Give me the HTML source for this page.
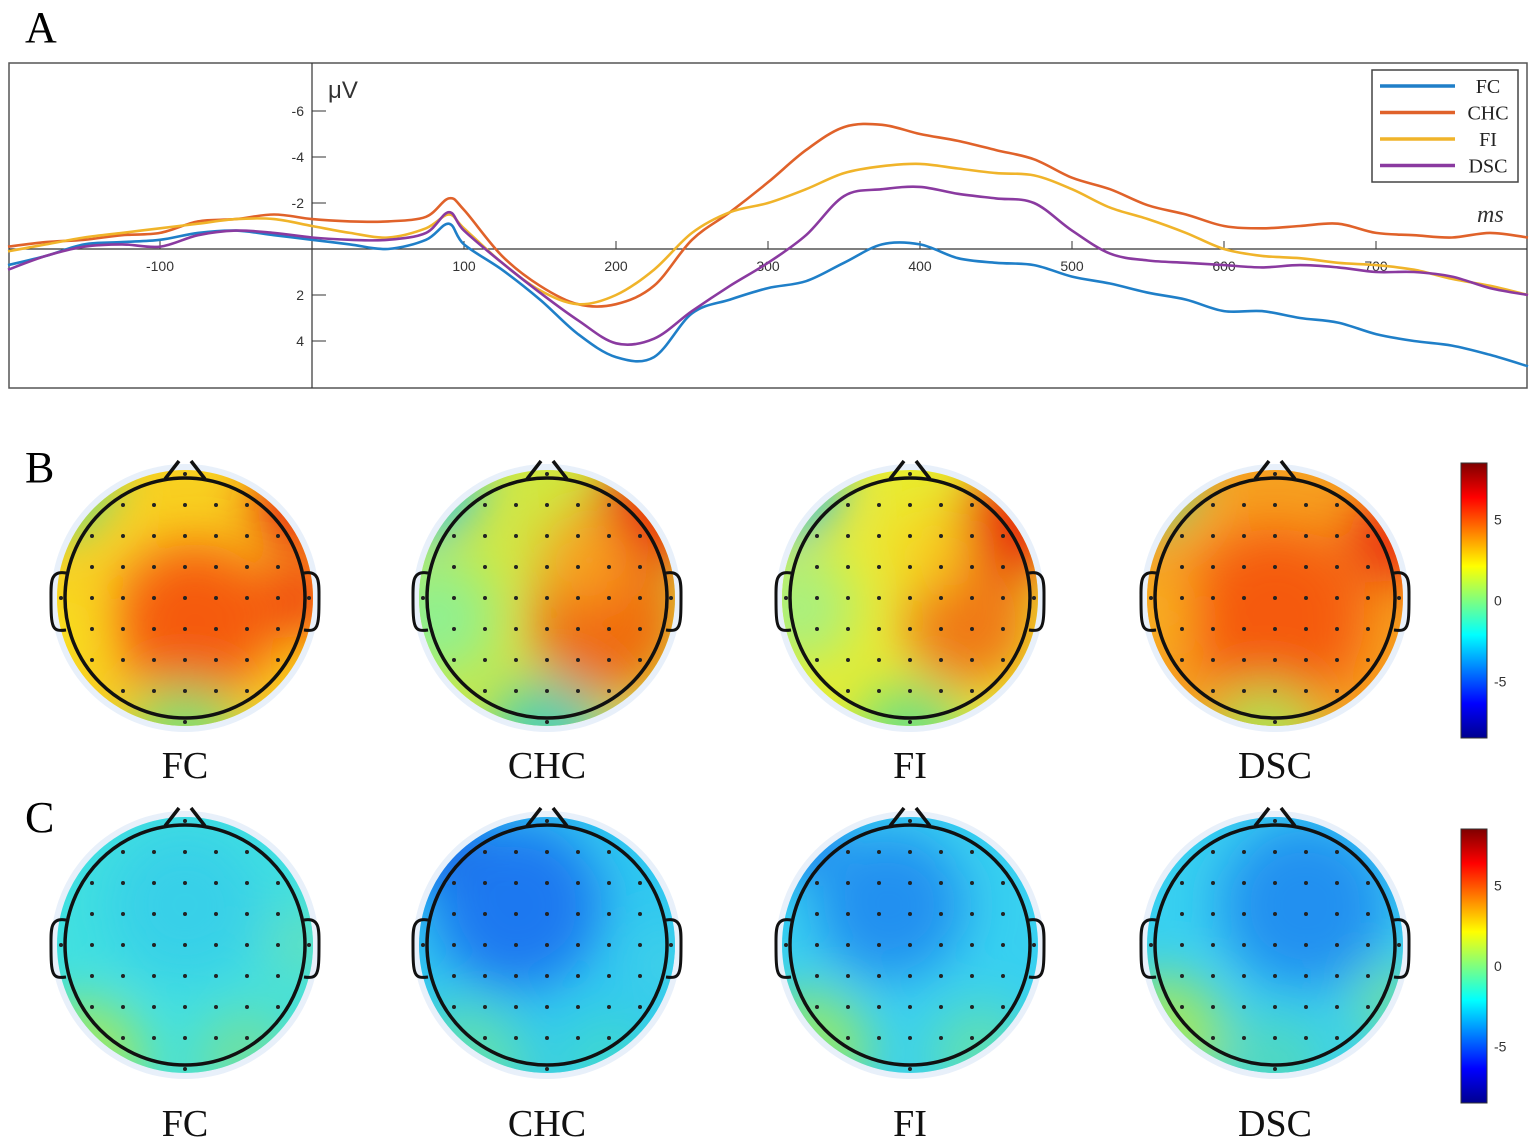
<!DOCTYPE html>
<html><head><meta charset="utf-8">
<style>
body{margin:0;background:#fff;width:1535px;height:1144px;overflow:hidden;font-family:"Liberation Serif",serif;}
svg{position:absolute;left:0;top:0}
</style></head>
<body>
<svg id="root" width="1535" height="1144">
<defs>
<filter id="blur" x="-50%" y="-50%" width="200%" height="200%"><feGaussianBlur stdDeviation="26"/></filter>
<linearGradient id="jet" x1="0" y1="1" x2="0" y2="0">
<stop offset="0" stop-color="#00008f"/><stop offset="0.125" stop-color="#0000ff"/><stop offset="0.375" stop-color="#00ffff"/>
<stop offset="0.5" stop-color="#7fff7f"/><stop offset="0.625" stop-color="#ffff00"/><stop offset="0.875" stop-color="#ff0000"/><stop offset="1" stop-color="#7f0000"/>
</linearGradient>
</defs>
<text x="25" y="42" font-size="44">A</text>
<text x="25" y="482" font-size="44">B</text>
<text x="25" y="832" font-size="44">C</text>
<rect x="9" y="63" width="1518" height="325" fill="#fff" stroke="#555" stroke-width="1.5"/>
<g id="erp"></g>
<g id="topos"></g>
</svg>
<script>
const NS="http://www.w3.org/2000/svg";
function mk(tag,attrs,parent){const e=document.createElementNS(NS,tag);for(const k in attrs)e.setAttribute(k,attrs[k]);if(parent)parent.appendChild(e);return e;}
const times=[-200,-175,-150,-125,-100,-75,-50,-25,0,25,50,75,90,100,125,150,175,200,225,250,275,300,325,350,375,400,425,450,475,500,525,550,575,600,625,650,675,700,725,750,775,800];
const fc=[0.7,0.3,-0.2,-0.3,-0.4,-0.7,-0.8,-0.6,-0.4,-0.2,0,-0.4,-1.1,-0.2,0.9,2.2,3.7,4.7,4.7,2.8,2.2,1.7,1.4,0.6,-0.2,-0.2,0.4,0.6,0.7,1.2,1.5,1.9,2.2,2.7,2.7,3.0,3.2,3.7,4.0,4.2,4.6,5.1];
const chc=[-0.1,-0.3,-0.4,-0.6,-0.7,-1.2,-1.3,-1.5,-1.3,-1.2,-1.2,-1.4,-2.2,-1.7,0.3,1.6,2.4,2.4,1.6,-0.4,-1.6,-2.9,-4.3,-5.3,-5.4,-5.0,-4.7,-4.3,-3.9,-3.1,-2.6,-1.9,-1.5,-1.0,-0.9,-1.0,-1.1,-0.7,-0.6,-0.5,-0.7,-0.5];
const fi=[0.1,-0.2,-0.5,-0.7,-0.9,-1.1,-1.3,-1.3,-1.0,-0.7,-0.5,-0.9,-1.5,-0.9,0.6,1.8,2.4,2.0,0.9,-0.7,-1.6,-2.0,-2.6,-3.3,-3.6,-3.7,-3.5,-3.3,-3.2,-2.6,-1.8,-1.3,-0.7,0,0.3,0.4,0.6,0.7,0.9,1.3,1.6,2.0];
const dsc=[0.9,0.3,-0.1,-0.2,-0.1,-0.6,-0.8,-0.7,-0.5,-0.4,-0.4,-0.7,-1.6,-0.8,0.6,1.9,3.1,4.1,3.9,2.7,1.6,0.6,-0.6,-2.3,-2.6,-2.7,-2.4,-2.2,-2.0,-0.8,0.2,0.5,0.6,0.7,0.8,0.7,0.8,1.0,1.0,1.2,1.7,2.0];
const xTicks=[-100,100,200,300,400,500,600,700];
const yTicks=[-6,-4,-2,2,4];
const seriesNames=["FC","CHC","FI","DSC"];
const seriesColors=["#1f7fc8","#e0622a","#f0b42a","#8a3aa0"];
const xs=t=>312+(t)*1.52;
const ys=v=>249+v*23;
const g=document.getElementById('erp');
const xa=mk('line',{x1:9,y1:249,x2:1527,y2:249,stroke:'#333','stroke-width':1.2},g);

const ya=mk('line',{x1:312,y1:63,x2:312,y2:388,stroke:'#333','stroke-width':1.2},g);

xTicks.forEach(t=>{const x=xs(t);
 const l=mk('line',{x1:x,y1:241,x2:x,y2:249,stroke:'#333'},g);
 
 
 const tx=mk('text',{x:x,y:271,'font-size':14,'text-anchor':'middle','font-family':'Liberation Sans, sans-serif',fill:'#333'},g);tx.textContent=t;
 
 });
yTicks.forEach(v=>{const y=ys(v);
 const l=mk('line',{x1:312,y1:y,x2:326,y2:y,stroke:'#333'},g);
 
 
 const tx=mk('text',{x:304,y:y+5,'font-size':14,'text-anchor':'end','font-family':'Liberation Sans, sans-serif',fill:'#333'},g);tx.textContent=v;
 
 });
let u=mk('text',{x:328,y:98,'font-size':24,fill:'#333','font-family':'Liberation Sans, sans-serif'},g);u.textContent='μV';


u=mk('text',{x:1477,y:222,'font-size':24,'font-style':'italic',fill:'#333'},g);u.textContent='ms';


function smooth(pts){let d='M'+pts[0][0].toFixed(1)+','+pts[0][1].toFixed(1);
 for(let i=0;i<pts.length-1;i++){const p0=pts[Math.max(0,i-1)],p1=pts[i],p2=pts[i+1],p3=pts[Math.min(pts.length-1,i+2)];
  const c1=[p1[0]+(p2[0]-p0[0])/6,p1[1]+(p2[1]-p0[1])/6],c2=[p2[0]-(p3[0]-p1[0])/6,p2[1]-(p3[1]-p1[1])/6];
  d+=`C${c1[0].toFixed(1)},${c1[1].toFixed(1)} ${c2[0].toFixed(1)},${c2[1].toFixed(1)} ${p2[0].toFixed(1)},${p2[1].toFixed(1)}`;}
 return d;}
[fc,chc,fi,dsc].forEach((s,i)=>{
 const d=smooth(s.map((v,j)=>[xs(times[j]),ys(v)]));
 const p=mk('path',{d:d,fill:'none',stroke:seriesColors[i],'stroke-width':2.6,'stroke-linejoin':'round'},g);
 
 });
const lg=mk('g',{},g);


mk('rect',{x:1372,y:70,width:146,height:112,fill:'#fff',stroke:'#444','stroke-width':1.5},lg);
seriesNames.forEach((n,i)=>{const y=86+i*26.5;
 const e=mk('g',{},lg);
 
 
 mk('line',{x1:1380,y1:y,x2:1455,y2:y,stroke:seriesColors[i],'stroke-width':3.5},e);
 const t=mk('text',{x:1488,y:y+7,'font-size':20,'text-anchor':'middle',fill:'#222'},e);t.textContent=n;});

const tg=document.getElementById('topos');
const cxs=[185,547,910,1275];
const blobsB=[
 {base:'#f8d020',b:[[-125,-115,50,'#60e090'],[10,25,80,'#f55a10'],[115,-95,45,'#e81a10'],[120,0,40,'#f04010'],[0,140,55,'#80e070'],[-130,40,40,'#f8e020']]},
 {base:'#d0e840',b:[[-125,-115,55,'#30c8f0'],[-110,20,60,'#90f090'],[60,25,75,'#f06a10'],[105,-85,55,'#e82010'],[0,140,60,'#50d0b0'],[40,-40,45,'#f8a020']]},
 {base:'#e8ec30',b:[[-125,-115,55,'#30c0f0'],[-110,10,55,'#a8f080'],[60,25,65,'#f07818'],[105,-75,55,'#e82a10'],[0,140,55,'#70e080'],[20,-50,40,'#f8d020']]},
 {base:'#f6a020',b:[[-125,-115,45,'#70e090'],[0,20,90,'#f55a10'],[120,-60,45,'#ea2a10'],[-10,140,55,'#b0e050'],[-120,20,40,'#f8b020']]}];
const blobsC=[
 {base:'#40e0e0',b:[[0,-40,80,'#38d0e8'],[-100,115,60,'#a0e860'],[60,115,50,'#70e0a0'],[120,0,40,'#60e0c0']]},
 {base:'#30c8f0',b:[[-30,-40,85,'#1a78f0'],[-115,-105,45,'#1a70e8'],[-80,120,60,'#60e0b0'],[60,120,50,'#40d8d0'],[120,20,40,'#40d0e8']]},
 {base:'#38d0f0',b:[[-20,-40,75,'#2090f0'],[-115,-110,40,'#2080f0'],[-100,105,60,'#90e870'],[70,110,50,'#60e0b0']]},
 {base:'#38d0f0',b:[[30,-40,85,'#2090f0'],[-110,90,60,'#a0e860'],[0,120,50,'#50d8c0'],[120,60,40,'#70e0a0']]}];
const names=["FC","CHC","FI","DSC"];
function topo(cx,cy,cfg,id,cond,row){
 const grp=mk('g',{},tg);
 
 
 const cp=mk('clipPath',{id:id},grp);mk('circle',{cx:cx,cy:cy,r:128},cp);
 mk('circle',{cx:cx,cy:cy,r:134,fill:'#e8f0fa'},grp);
 const inner=mk('g',{'clip-path':'url(#'+id+')'},grp);
 mk('rect',{x:cx-140,y:cy-140,width:280,height:280,fill:cfg.base},inner);
 const bg=mk('g',{filter:'url(#blur)'},inner);
 cfg.b.forEach(b=>mk('circle',{cx:cx+b[0],cy:cy+b[1],r:b[2],fill:b[3]},bg));
 for(let i=-4;i<=4;i++)for(let j=-4;j<=4;j++){const dx=j*31,dy=i*31;if(dx*dx+dy*dy<125*125)mk('circle',{cx:cx+dx,cy:cy+dy,r:2,fill:'#222'},grp);}
 mk('circle',{cx:cx,cy:cy,r:120,fill:'none',stroke:'#111','stroke-width':3.5},grp);
 mk('path',{d:`M${cx-20},${cy-119} L${cx-6},${cy-137} M${cx+6},${cy-137} L${cx+20},${cy-119}`,fill:'none',stroke:'#111','stroke-width':3.5},grp);
 mk('path',{d:`M${cx-119},${cy-25} C${cx-135},${cy-28} ${cx-134},${cy-15} ${cx-134},${cy} C${cx-134},${cy+30} ${cx-133},${cy+34} ${cx-119},${cy+32}`,fill:'none',stroke:'#111','stroke-width':3},grp);
 mk('path',{d:`M${cx+119},${cy-25} C${cx+135},${cy-28} ${cx+134},${cy-15} ${cx+134},${cy} C${cx+134},${cy+30} ${cx+133},${cy+34} ${cx+119},${cy+32}`,fill:'none',stroke:'#111','stroke-width':3},grp);
 const t=mk('text',{x:cx,y:row==='b'?778:1136,'font-size':38,'text-anchor':'middle',fill:'#111'},tg);t.textContent=cond;
 
 
}
cxs.forEach((cx,i)=>{topo(cx,598,blobsB[i],'cb'+i,names[i],'b');topo(cx,945,blobsC[i],'cc'+i,names[i],'c');});
[[463,738],[829,1103]].forEach((r,k)=>{
 const cb=mk('g',{},tg);
 
 
 mk('rect',{x:1461,y:r[0],width:26,height:r[1]-r[0],fill:'url(#jet)',stroke:'#333'},cb);
 const h=r[1]-r[0];
 [[5,'5'],[0,'0'],[-5,'-5']].forEach(v=>{const y=r[0]+h*(8.5-v[0])/17;
  const t=mk('text',{x:1494,y:y+5,'font-size':14,fill:'#333','font-family':'Liberation Sans, sans-serif'},cb);t.textContent=v[1];});
});
</script>
</body></html>
